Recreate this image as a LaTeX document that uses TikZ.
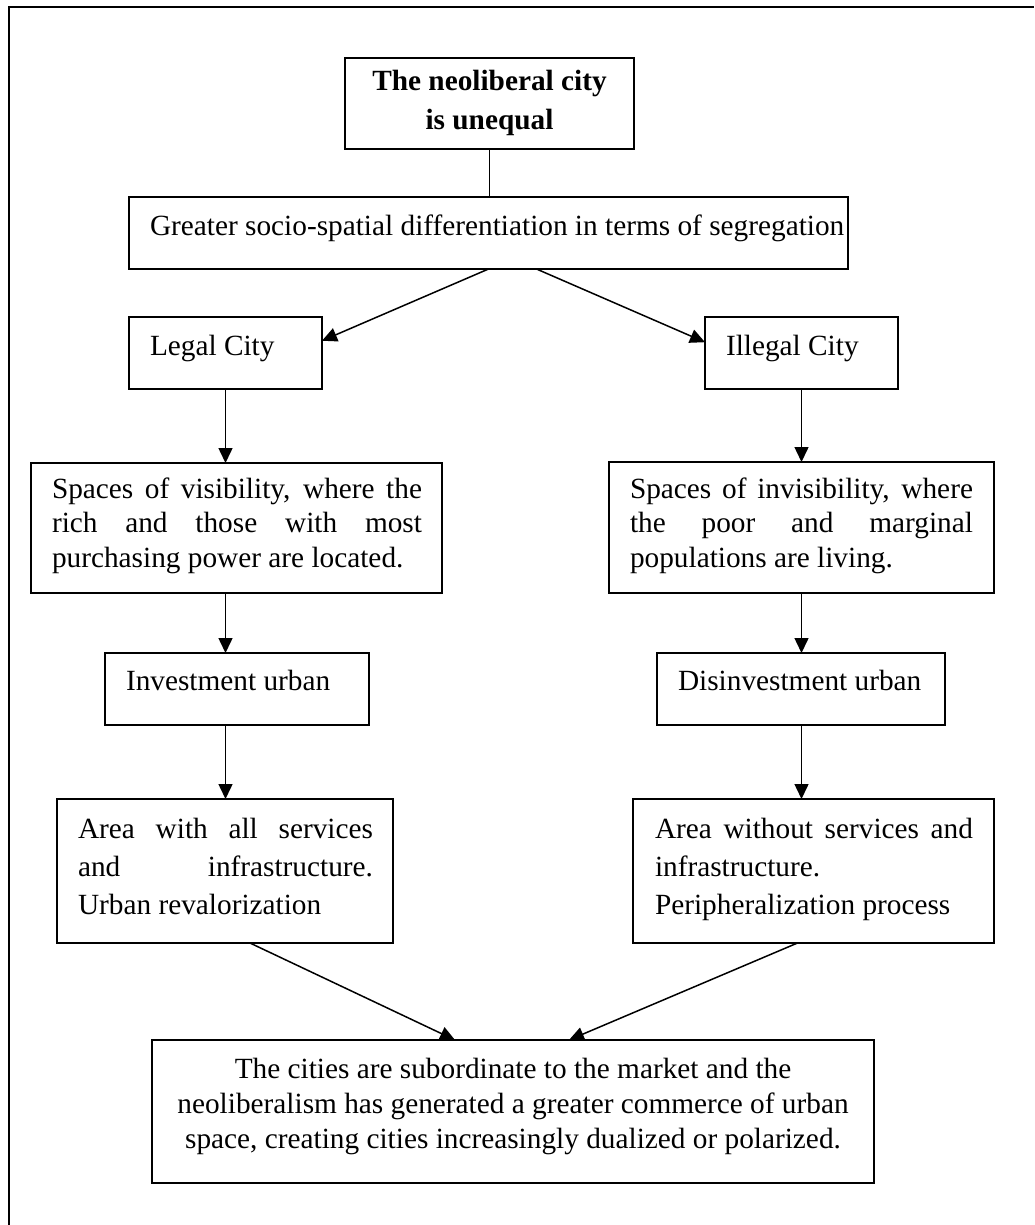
\documentclass[tikz,border=0pt]{standalone}
\usepackage{fontspec}
\setmainfont{Liberation Serif}
\usetikzlibrary{arrows.meta,calc}
\newcommand{\myfs}{\fontsize{29.3}{34.5}\selectfont}
\begin{document}
\begin{tikzpicture}[x=1pt,y=-1pt,
  box/.style={draw, line width=1.6pt, inner sep=0pt, outer sep=0pt, anchor=north west},
  conn/.style={line width=1.5pt, -{Triangle[length=15pt,width=14pt]}},
  plain/.style={line width=1.5pt},
  txt/.style={anchor=base west, inner sep=0pt, outer sep=0pt, font=\myfs},
  ctxt/.style={anchor=base, inner sep=0pt, outer sep=0pt, font=\myfs},
  frame/.style={line width=2.6pt}
]
\useasboundingbox (0,0) rectangle (1034,1225);
\draw[frame] (9,1225) -- (9,7) -- (1034,7);

% boxes
\node[box, minimum width=289pt, minimum height=91pt] (title) at (345,58) {};
\node[box, minimum width=719pt, minimum height=72pt] (seg) at (129,197) {};
\node[box, minimum width=193pt, minimum height=72pt] (legal) at (129,317) {};
\node[box, minimum width=193pt, minimum height=72pt] (illegal) at (705,317) {};
\node[box, minimum width=411pt, minimum height=130pt] (vis) at (31,463) {};
\node[box, minimum width=385pt, minimum height=131pt] (invis) at (609,462) {};
\node[box, minimum width=264pt, minimum height=72pt] (invest) at (105,653) {};
\node[box, minimum width=288pt, minimum height=72pt] (disinv) at (657,653) {};
\node[box, minimum width=336pt, minimum height=144pt] (area1) at (57,799) {};
\node[box, minimum width=361pt, minimum height=144pt] (area2) at (633,799) {};
\node[box, minimum width=722pt, minimum height=143pt] (final) at (152,1040) {};

% texts
\node[ctxt, font=\myfs\bfseries] (t1) at (489.5,91) {The neoliberal city};
\node[ctxt, font=\myfs\bfseries] (t2) at (489.5,130) {is unequal};
\node[txt] (segt) at (150,235) {Greater socio-spatial differentiation in terms of segregation};
\node[txt] (legalt) at (150,355) {Legal City};
\node[txt] (illegalt) at (726,355) {Illegal City};
\node[txt] (vis1) at (52,498) {\makebox[370pt][s]{Spaces of visibility, where the}};
\node[txt] (vis2) at (52,532) {\makebox[370pt][s]{rich and those with most}};
\node[txt] (vis3) at (52,567) {purchasing power are located.};
\node[txt] (inv1) at (630,498) {\makebox[343pt][s]{Spaces of invisibility, where}};
\node[txt] (inv2) at (630,532) {\makebox[343pt][s]{the poor and marginal}};
\node[txt] (inv3) at (630,567) {populations are living.};
\node[txt] (investt) at (126,690) {Investment urban};
\node[txt] (disinvt) at (678,690) {Disinvestment urban};
\node[txt] (a11) at (78,838) {\makebox[295pt][s]{Area with all services}};
\node[txt] (a12) at (78,876) {\makebox[295pt][s]{and infrastructure.}};
\node[txt] (a13) at (78,914) {Urban revalorization};
\node[txt] (a21) at (655,838) {\makebox[318pt][s]{Area without services and}};
\node[txt] (a22) at (655,876) {infrastructure.};
\node[txt] (a23) at (655,914) {Peripheralization process};
\node[ctxt] (f1) at (513,1078) {The cities are subordinate to the market and the};
\node[ctxt] (f2) at (513,1113) {neoliberalism has generated a greater commerce of urban};
\node[ctxt] (f3) at (513,1148) {space, creating cities increasingly dualized or polarized.};

% connectors
\draw[plain] (title.south) -- (title.south |- seg.north);
\draw[conn] (seg.south) -- ($(legal.north east)!0.33!(legal.south east)$);
\draw[conn] ([xshift=48pt]seg.south) -- ($(illegal.north west)!0.35!(illegal.south west)$);
\draw[conn] (legal.south) -- (legal.south |- vis.north);
\draw[conn] (vis.south -| legal.south) -- (invest.north -| legal.south);
\draw[conn] (invest.south -| legal.south) -- (area1.north -| legal.south);
\draw[conn] (illegal.south) -- (illegal.south |- invis.north);
\draw[conn] (invis.south -| illegal.south) -- (disinv.north -| illegal.south);
\draw[conn] (disinv.south -| illegal.south) -- (area2.north -| illegal.south);
\draw[conn] ([xshift=25pt]area1.south) -- ([xshift=-58pt]final.north);
\draw[conn] ([xshift=-16pt]area2.south) -- ([xshift=56pt]final.north);
\end{tikzpicture}
\end{document}
